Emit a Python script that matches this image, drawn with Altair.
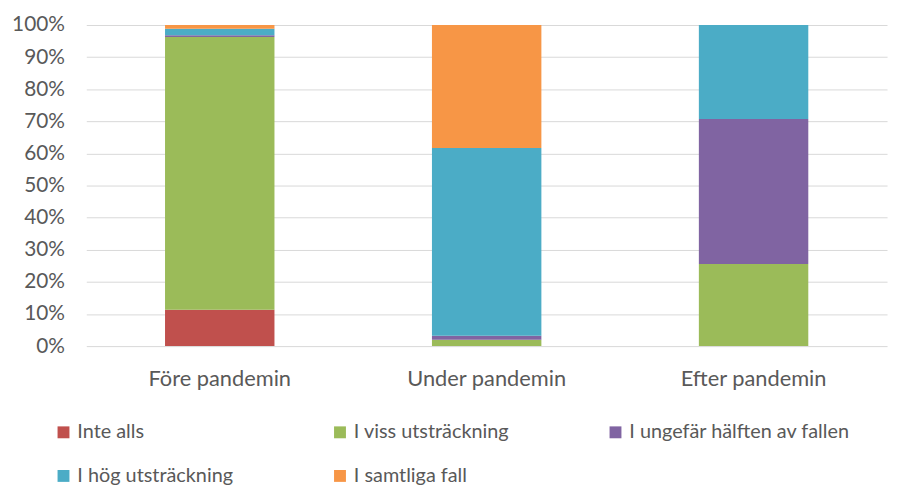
import altair as alt
import pandas as pd

periods = ["Före pandemin", "Under pandemin", "Efter pandemin"]
categories = ["Inte alls", "I viss utsträckning", "I ungefär hälften av fallen",
              "I hög utsträckning", "I samtliga fall"]
colors = ["#C0504D", "#9BBB59", "#8064A2", "#4BACC6", "#F79646"]
values = {
    "Före pandemin": [11.3, 85.0, 0.5, 2.0, 1.2],
    "Under pandemin": [0.0, 2.0, 1.2, 58.5, 38.3],
    "Efter pandemin": [0.0, 25.6, 45.1, 29.3, 0.0],
}

rows = []
for p in periods:
    for i, c in enumerate(categories):
        rows.append({"period": p, "cat": c, "order": i, "value": values[p][i]})
df = pd.DataFrame(rows)

FONT = "Lato"

chart = alt.Chart(df).mark_bar().encode(
    x=alt.X("period:N", sort=periods, title=None,
            scale=alt.Scale(paddingInner=0.59, paddingOuter=0.295),
            axis=alt.Axis(labelAngle=0, ticks=False, domain=False, labelPadding=23,
                          labelFontSize=22, labelColor="#595959", labelFont=FONT)),
    y=alt.Y("value:Q", stack="normalize", title=None,
            scale=alt.Scale(domain=[0, 1]),
            axis=alt.Axis(format=".0%", values=[i / 10 for i in range(11)], ticks=False,
                          domain=False, labelPadding=22, labelFontSize=21,
                          labelColor="#595959", labelFont=FONT,
                          gridColor="#D9D9D9", gridWidth=1)),
    color=alt.Color("cat:N", scale=alt.Scale(domain=categories, range=colors), title=None,
                    legend=alt.Legend(orient="none", legendX=-33, legendY=401, columns=3,
                                      direction="horizontal",
                                      columnPadding=97, rowPadding=24, symbolType="square",
                                      symbolSize=144, symbolStrokeWidth=0, labelFontSize=20,
                                      labelFont=FONT, labelColor="#595959", labelOffset=4,
                                      labelLimit=400)),
    order=alt.Order("order:Q", sort="ascending"),
).properties(
    width=808, height=324,
    autosize=alt.AutoSizeParams(type="none"),
    padding={"left": 79, "top": 15, "right": 4, "bottom": 141},
).configure_view(stroke=None)

chart.save("out.html", embed_options={"renderer": "svg", "actions": False})
